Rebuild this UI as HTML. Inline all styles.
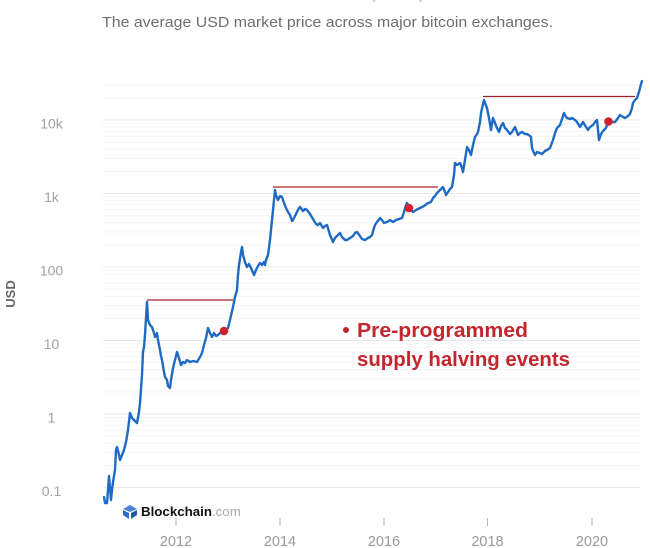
<!DOCTYPE html>
<html>
<head>
<meta charset="utf-8">
<style>
  html,body{margin:0;padding:0;background:#fff;}
  body{width:650px;height:548px;overflow:hidden;}
  svg{display:block;}
</style>
</head>
<body>
<svg width="650" height="548" viewBox="0 0 650 548" xmlns="http://www.w3.org/2000/svg">
  <rect width="650" height="548" fill="#fff"/>
  <!-- cut-off top title -->
  <text x="335" y="-2" text-anchor="middle" font-family="Liberation Sans, sans-serif" font-size="20" font-weight="bold" fill="#d4d4d4">Market Price (USD)</text>
  <!-- subtitle -->
  <text x="102" y="27" font-family="Liberation Sans, sans-serif" font-size="15" fill="#6f6f6f" textLength="451" lengthAdjust="spacingAndGlyphs">The average USD market price across major bitcoin exchanges.</text>

  <!-- gridlines -->
  <g id="grid" stroke-width="1"></g>

  <!-- Y labels -->
  <g font-family="Liberation Sans, sans-serif" font-size="14" fill="#a2a2a2" text-anchor="middle">
    <text x="51.5" y="128.5">10k</text>
    <text x="51.5" y="202">1k</text>
    <text x="51.5" y="275.5">100</text>
    <text x="51.5" y="349">10</text>
    <text x="51.5" y="422.5">1</text>
    <text x="51.5" y="496">0.1</text>
  </g>
  <text transform="translate(15,294) rotate(-90)" text-anchor="middle" font-family="Liberation Sans, sans-serif" font-size="13" font-weight="bold" fill="#666">USD</text>

  <!-- X ticks & labels -->
  <g stroke="#b5b5b5" stroke-width="1">
    <line x1="176" y1="518" x2="176" y2="526"/>
    <line x1="280" y1="518" x2="280" y2="526"/>
    <line x1="384" y1="518" x2="384" y2="526"/>
    <line x1="487.5" y1="518" x2="487.5" y2="526"/>
    <line x1="592" y1="518" x2="592" y2="526"/>
  </g>
  <g font-family="Liberation Sans, sans-serif" font-size="14.5" fill="#9a9a9a" text-anchor="middle">
    <text x="176" y="546">2012</text>
    <text x="280" y="546">2014</text>
    <text x="384" y="546">2016</text>
    <text x="487.5" y="546">2018</text>
    <text x="592" y="546">2020</text>
  </g>

  <!-- Blockchain logo -->
  <g>
    <polygon points="130,505 137,509 130,512 123,509" fill="#4a86d4"/>
    <polygon points="123,510 129,513 129,519 123,515" fill="#2d6cc0"/>
    <polygon points="131,513 137,510 137,515 131,519" fill="#1f5aa8"/>
  </g>
  <text x="141" y="516" font-family="Liberation Sans, sans-serif" font-size="13.3" font-weight="bold" fill="#111">Blockchain<tspan font-weight="normal" fill="#a8a8a8">.com</tspan></text>

  <!-- halving lines -->
  <g stroke="#a3252b" stroke-width="1.3">
    <line x1="147" y1="300" x2="233" y2="300"/>
    <line x1="273" y1="187" x2="438" y2="187"/>
    <line x1="483" y1="96.5" x2="635" y2="96.5"/>
  </g>

  <!-- price series -->
  <polyline fill="none" stroke="#1f6bc4" stroke-width="2.4" stroke-linejoin="round" stroke-linecap="round" points="
104,497 105,503 107,503 108,490 109,476 110,488 111,500 112,490 113,482 115,470 116,450 117,447 119,455 120,460 122,455 124,450 126,442 128,430 130,413 132,418 134,420 137,423 139,412 140,403 142,375 143,352 144,347 145,335 146,318 147,302 148,320 150,325 152,327 154,333 155,337 157,333 158,340 160,350 161,356 162,360 164,372 165,377 167,380 168,386 170,388 171,380 173,368 175,360 177,352 179,358 181,365 183,362 185,363 187,360 190,362 193,361 197,362 200,357 202,353 204,345 206,338 208,328 210,333 212,337 214,333 216,336 218,335 220,333 222,333 224,331 226,330 228,328 230,320 233,307 235,297 237,290 238,275 239,265 241,252 242,247 243,255 245,262 247,267 249,264 251,268 254,275 256,270 258,266 260,263 262,265 264,262 265,265 266,260 268,255 270,240 272,220 274,200 275,190 276,195 278,200 280,196 282,197 284,203 286,208 288,212 290,215 292,221 293,220 295,216 297,212 299,208 300,207 303,211 305,209 307,210 310,214 313,219 316,224 318,225 320,223 323,228 325,226 327,225 330,235 333,242 335,238 337,236 340,233 342,237 345,240 347,240 350,238 353,236 355,233 357,232 360,236 362,239 365,240 368,238 370,237 372,235 374,228 375,225 377,222 380,218 382,220 384,223 387,222 390,220 393,222 396,220 399,219 402,218 404,212 406,205 407,203 409,208 411,210 413,212 416,210 420,208 424,206 428,203 431,202 433,198 435,196 437,193 440,190 443,187 445,192 446,195 448,192 450,189 452,187 454,175 455,163 457,165 460,163 462,168 463,172 465,160 467,147 469,150 471,155 473,145 475,137 477,134 478,132 480,122 481,113 483,104 484,100 485,103 487,108 489,118 491,130 492,124 493,118 495,123 497,128 499,132 501,126 503,123 505,128 507,130 510,134 512,132 515,127 518,135 520,133 522,132 525,134 527,134 530,136 531,137 532,148 534,153 535,155 537,152 540,153 542,154 545,151 547,150 550,148 553,140 555,133 557,128 560,125 562,119 564,113 566,117 567,118 570,119 572,118 575,120 577,122 580,127 583,122 586,127 588,130 590,127 593,125 595,122 597,120 599,140 601,134 603,131 606,128 608,122 612,122 615,122 618,118 620,115 623,117 625,118 628,116 630,114 632,108 633,103 635,100 637,98 639,92 641,84 642,81"/>

  <!-- halving dots -->
  <g fill="#d2202e">
    <circle cx="224" cy="331" r="4.3"/>
    <circle cx="409" cy="208" r="4.3"/>
    <circle cx="608.5" cy="121.5" r="4.3"/>
  </g>

  <!-- annotation -->
  <g font-family="Liberation Sans, sans-serif" font-weight="bold" fill="#c4262e" font-size="20.5">
    <circle cx="346" cy="330" r="3" fill="#c4262e"/>
    <text x="357" y="337" textLength="171" lengthAdjust="spacingAndGlyphs">Pre-programmed</text>
    <text x="357" y="366" textLength="213" lengthAdjust="spacingAndGlyphs">supply halving events</text>
  </g>

  <script>
    (function(){
      var g=document.getElementById('grid');
      var ns='http://www.w3.org/2000/svg';
      function y(v){return 414-73.5*Math.log10(v);}
      var decades=[0.1,1,10,100,1000,10000];
      decades.forEach(function(d){
        for(var m=1;m<=9;m++){
          var v=d*m;
          if(v>30000.1) break;
          var yy=y(v);
          var l=document.createElementNS(ns,'line');
          l.setAttribute('x1',103);l.setAttribute('x2',640);
          l.setAttribute('y1',yy);l.setAttribute('y2',yy);
          l.setAttribute('stroke', m===1?'#e8e8e8':'#f4f4f4');
          g.appendChild(l);
        }
      });
    })();
  </script>
</svg>
</body>
</html>
